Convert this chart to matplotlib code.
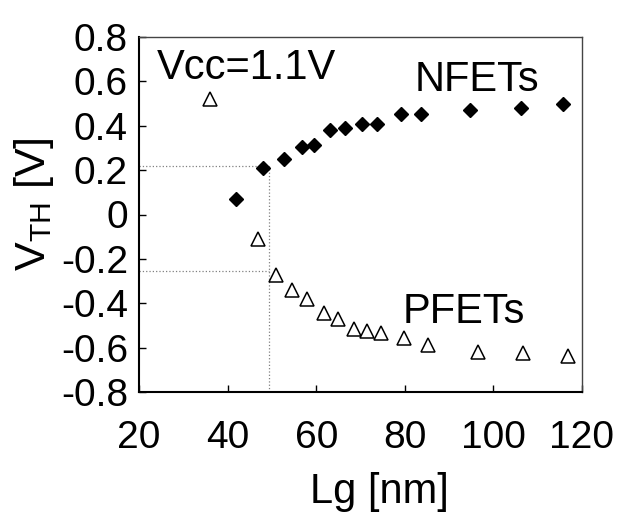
import matplotlib.pyplot as plt

plt.rcParams['font.family'] = ['Liberation Sans', 'DejaVu Sans']

# NFET threshold voltage vs gate length
lg_n = [42.0, 48.1, 52.7, 56.8, 59.6, 63.1, 66.5, 70.4, 73.8, 79.1, 83.7, 94.7, 106.2, 115.6]
vth_n = [0.072, 0.211, 0.252, 0.306, 0.314, 0.381, 0.389, 0.407, 0.407, 0.452, 0.452, 0.472, 0.480, 0.498]

# PFET threshold voltage vs gate length
lg_p = [36.0, 46.9, 50.9, 54.5, 58.0, 61.8, 65.0, 68.5, 71.5, 74.6, 79.8, 85.3, 96.6, 106.6, 116.9]
vth_p = [0.52, -0.110, -0.271, -0.342, -0.380, -0.445, -0.471, -0.516, -0.525, -0.532,
         -0.558, -0.588, -0.618, -0.626, -0.637]

# guide lines at Lg ~ 49 nm
lg_mark = 49.4
vth_mark_n = 0.219
vth_mark_p = -0.253

fig = plt.figure(figsize=(6.33, 5.13), dpi=100)
ax = fig.add_axes([139/633, 1 - 392/513, 443/633, 355/513])

ax.plot([20, lg_mark], [vth_mark_n, vth_mark_n], ls=':', color='gray', lw=0.9)
ax.plot([20, lg_mark], [vth_mark_p, vth_mark_p], ls=':', color='gray', lw=0.9)
ax.plot([lg_mark, lg_mark], [-0.8, vth_mark_n], ls=':', color='gray', lw=0.9)

ax.plot(lg_n, vth_n, 'D', color='black', markersize=6.8, ls='none')
ax.plot(lg_p, vth_p, '^', mfc='white', mec='black', mew=1.1, markersize=9.5, ls='none')

ax.set_xlim(20, 120)
ax.set_ylim(-0.8, 0.8)
ax.set_xticks([20, 40, 60, 80, 100, 120])
ax.set_yticks([-0.8, -0.6, -0.4, -0.2, 0, 0.2, 0.4, 0.6, 0.8])
ax.set_yticklabels(['-0.8', '-0.6', '-0.4', '-0.2', '0', '0.2', '0.4', '0.6', '0.8'])
ax.tick_params(direction='in', length=5, width=1, labelsize=28)
ax.tick_params(axis='x', pad=20)
ax.tick_params(axis='y', pad=8)
for s in ax.spines.values():
    s.set_linewidth(1.5)
ax.spines['top'].set_color('#444444')
ax.spines['right'].set_color('#444444')
ax.spines['top'].set_linewidth(1.0)
ax.spines['right'].set_linewidth(1.0)

ax.text(24.1, 0.611, 'Vcc=1.1V', fontsize=30, va='baseline', ha='left')
ax.text(82.3, 0.557, 'NFETs', fontsize=30, va='baseline', ha='left')
ax.text(79.4, -0.489, 'PFETs', fontsize=30, va='baseline', ha='left')

ax.set_xlabel('Lg [nm]', fontsize=30)
ax.xaxis.set_label_coords(0.542, -0.225)
ax.set_ylabel('V$_{\\mathregular{TH}}$ [V]', fontsize=31)
ax.yaxis.label.set_va('center')
ax.yaxis.set_label_coords(-0.237, 0.53)

fig.savefig('out.png', dpi=100)
